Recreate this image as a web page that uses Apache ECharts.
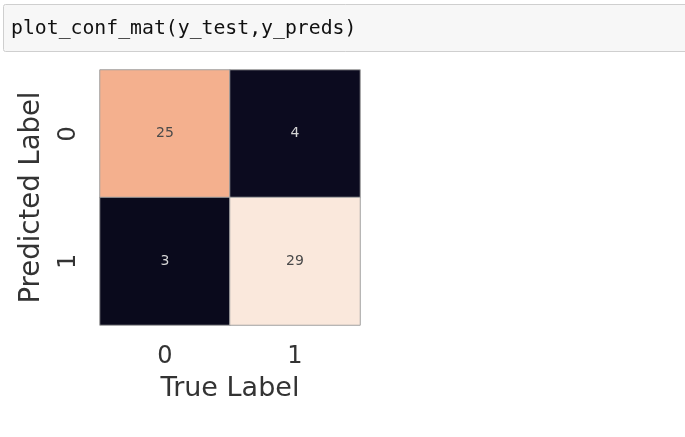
<!DOCTYPE html>
<html>
<head>
<meta charset="utf-8">
<script src="https://cdn.jsdelivr.net/npm/echarts@6/dist/echarts.min.js"></script>
<style>
html,body{margin:0;padding:0;background:#fff;}
#chart{width:685px;height:437px;}
</style>
</head>
<body>
<div id="chart"></div>
<script>
// ---- data ----
const codeLine = 'plot_conf_mat(y_test,y_preds)';
const trueLabels = ['0', '1'];        // x axis categories
const predLabels = ['0', '1'];        // y axis categories
const countsRow0 = [25, 4];           // predicted 0: true 0, true 1
const countsRow1 = [3, 29];           // predicted 1: true 0, true 1
const xAxisName = 'True Label';
const yAxisName = 'Predicted Label';

const rows = [countsRow0, countsRow1];
const cells = [];
rows.forEach((row, i) => row.forEach((v, j) => cells.push([j, i, v])));
const allVals = cells.map(c => c[2]);
const vMin = Math.min(...allVals), vMax = Math.max(...allVals);

const chart = echarts.init(document.getElementById('chart'), null, {renderer: 'canvas'});
chart.setOption({
  backgroundColor: '#ffffff',
  animation: false,
  graphic: [
    {
      type: 'rect', left: 3, top: 4, z: 0,
      shape: {width: 700, height: 47, r: 2},
      style: {fill: '#f7f7f7', stroke: '#cfcfcf', lineWidth: 1}
    },
    {
      type: 'text', left: 11, top: 19, z: 1,
      style: {text: codeLine, fontFamily: 'DejaVu Sans Mono', fontSize: 19.8, fill: '#111'}
    }
  ],
  grid: {left: 100, top: 70, width: 260, height: 255},
  xAxis: {
    type: 'category', data: trueLabels, position: 'bottom',
    name: xAxisName, nameLocation: 'middle', nameGap: 50,
    nameTextStyle: {fontFamily: 'DejaVu Sans', fontSize: 27, color: '#333'},
    axisLine: {show: false}, axisTick: {show: false},
    axisLabel: {fontFamily: 'DejaVu Sans', fontSize: 24, color: '#333', margin: 20},
    splitLine: {show: false}
  },
  yAxis: {
    type: 'category', data: predLabels, inverse: true,
    name: yAxisName, nameLocation: 'middle', nameRotate: 90, nameGap: 54,
    nameTextStyle: {fontFamily: 'DejaVu Sans', fontSize: 27.5, color: '#333'},
    axisLine: {show: false}, axisTick: {show: false},
    axisLabel: {fontFamily: 'DejaVu Sans', fontSize: 24, color: '#333', rotate: 90, margin: 19},
    splitLine: {show: false}
  },
  visualMap: {
    show: false, type: 'continuous', min: vMin, max: vMax, dimension: 2,
    inRange: {color: ['#0a0a1c', '#0e0b22', '#35173f', '#501c4f', '#6d1f58', '#8b1d5b', '#aa185a',
                      '#c91b50', '#e13342', '#ef5f40', '#f38a64', '#f4b08e', '#f7ccb4', '#fae8dc']}
  },
  series: [{
    type: 'heatmap',
    data: cells,
    itemStyle: {borderColor: '#a0a0a0', borderWidth: 1},
    label: {
      show: true,
      formatter: p => (p.value[2] > (vMin + vMax) / 2 ? '{l|' : '{d|') + p.value[2] + '}',
      rich: {
        l: {fontFamily: 'DejaVu Sans', fontSize: 14, color: '#4a4a4a'},
        d: {fontFamily: 'DejaVu Sans', fontSize: 14, color: '#d4d4d4'}
      }
    },
    emphasis: {disabled: true}
  }]
});
</script>
</body>
</html>
